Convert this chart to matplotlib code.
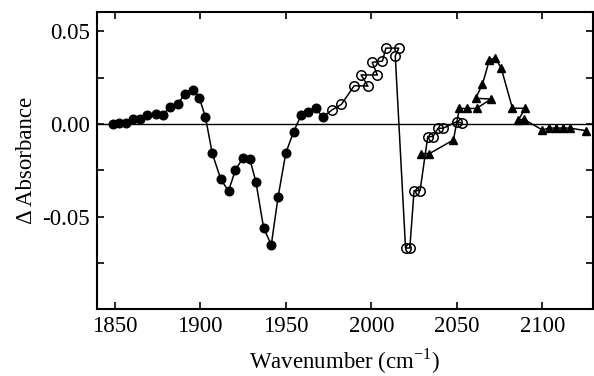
import numpy as np
import matplotlib.pyplot as plt
from matplotlib.ticker import MultipleLocator

# filled circles
wn_filled = [1849, 1852.5, 1856.5, 1860.5, 1864.5, 1869, 1874, 1878, 1882, 1887,
             1891, 1895.5, 1899.5, 1903, 1907, 1912, 1916.5, 1920.5, 1925, 1929,
             1932.5, 1937, 1941.5, 1945.5, 1950, 1954.5, 1959, 1963, 1967.5, 1971.5]
da_filled = [0.0, 0.0004, 0.0007, 0.0027, 0.0025, 0.0047, 0.0054, 0.0047, 0.0092, 0.011,
             0.0164, 0.0186, 0.0139, 0.0038, -0.0159, -0.0299, -0.0362, -0.0249, -0.0182, -0.0191,
             -0.0312, -0.056, -0.0654, -0.0393, -0.0157, -0.0043, 0.0049, 0.0065, 0.0088, 0.0036]

# open circles
wn_open = [1977, 1982.5, 1990, 1998, 1994, 2003.5, 2000.5, 2006.5, 2008.5, 2016,
           2014, 2020, 2022.5, 2025, 2028.5, 2033, 2036, 2039, 2042, 2050, 2053]
da_open = [0.0076, 0.0106, 0.0207, 0.0205, 0.0265, 0.0265, 0.0333, 0.034, 0.041, 0.041,
           0.0368, -0.067, -0.067, -0.036, -0.036, -0.0068, -0.0068, -0.0023, -0.0023, 0.0013, 0.0004]

# triangles
wn_tri = [2029, 2034, 2048, 2051.5, 2056, 2061.5, 2070, 2061, 2065, 2069,
          2072.5, 2076, 2082.5, 2090, 2086, 2089, 2100, 2104, 2108, 2112, 2116, 2125.5]
da_tri = [-0.016, -0.016, -0.0086, 0.0084, 0.0084, 0.0084, 0.0135, 0.0139, 0.0215, 0.0346,
          0.0358, 0.030, 0.0085, 0.0085, 0.0022, 0.0026, -0.0032, -0.0022, -0.0022, -0.0022, -0.0022, -0.0036]

xticks = [1850, 1900, 1950, 2000, 2050, 2100]
yticks = [-0.05, 0.00, 0.05]

plt.rcParams['font.family'] = ['Liberation Serif', 'DejaVu Serif']
plt.rcParams['mathtext.fontset'] = 'custom'
plt.rcParams['mathtext.rm'] = 'Liberation Serif'

fig = plt.figure(figsize=(5.94, 3.76), dpi=100)
ax = fig.add_axes([0.163, 0.178, 0.835, 0.79])

ax.axhline(0, color='black', lw=1.0, zorder=1)

# connecting lines
ax.plot(wn_filled + wn_open, da_filled + da_open, color='black', lw=1.1, zorder=2)
ax.plot(wn_tri, da_tri, color='black', lw=1.1, zorder=2)

ax.plot(wn_filled, da_filled, 'o', ms=6.2, mfc='black', mec='black', ls='none', zorder=3)
ax.plot(wn_open, da_open, 'o', ms=6.8, mfc='none', mec='black', mew=1.1, ls='none', zorder=3)
ax.plot(wn_tri, da_tri, '^', ms=5.5, mfc='black', mec='black', ls='none', zorder=3)

ax.set_xlim(1839.5, 2129.5)
ax.set_ylim(-0.1, 0.0605)
ax.set_xticks(xticks)
ax.set_yticks(yticks)
ax.set_yticklabels([f'{v:.2f}' for v in yticks])
ax.yaxis.set_minor_locator(MultipleLocator(0.025))
ax.tick_params(which='both', direction='in', top=True, right=True, length=5, width=1.2,
               labelsize=16.5, pad=5)
for s in ax.spines.values():
    s.set_linewidth(1.5)

ax.set_xlabel('Wavenumber (cm$^{\\mathregular{-1}}$)', fontsize=16.5, labelpad=7)
ax.set_ylabel('\u0394 Absorbance', fontsize=16.5, labelpad=4)

fig.savefig('out.png', dpi=100)
